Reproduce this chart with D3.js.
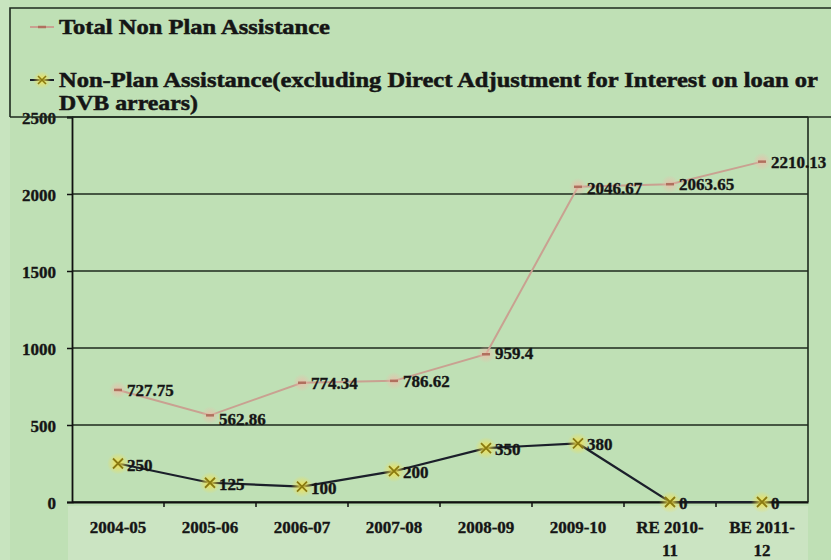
<!DOCTYPE html>
<html>
<head>
<meta charset="utf-8">
<script src="https://cdn.jsdelivr.net/npm/d3@7"></script>
<style>
  body { margin: 0; background: #bfe0b5; }
  svg { display: block; }
  text { font-family: "Liberation Serif", "DejaVu Serif", serif; font-weight: bold; fill: #151515; stroke: #151515; stroke-width: 0.35px; }
</style>
</head>
<body>
<div id="chart"></div>
<script>
// categories and series
var years = ["2004-05", "2005-06", "2006-07", "2007-08", "2008-09", "2009-10", "RE 2010-11", "BE 2011-12"]
var totalNPA = [727.75, 562.86, 774.34, 786.62, 959.4, 2046.67, 2063.65, 2210.13]
var exclNPA = [250, 125, 100, 200, 350, 380, 0, 0]
var yTicks = [0, 500, 1000, 1500, 2000, 2500]
var seriesNames = ["Total Non Plan Assistance",
	"Non-Plan Assistance(excluding Direct Adjustment for Interest on loan or",
	"DVB arrears)"]

var W = 831, H = 560
var margin = { top: 117, right: 23, bottom: 58, left: 72 }

var svg = d3.select("#chart").append("svg")
	.attr("width", W)
	.attr("height", H)

var defs = svg.append("defs")
var glowY = defs.append("radialGradient").attr("id", "glowY")
glowY.append("stop").attr("offset", "0%").attr("stop-color", "#f4e04a").attr("stop-opacity", 0.95)
glowY.append("stop").attr("offset", "100%").attr("stop-color", "#f4e04a").attr("stop-opacity", 0)
var glowP = defs.append("radialGradient").attr("id", "glowP")
glowP.append("stop").attr("offset", "0%").attr("stop-color", "#f0b8a8").attr("stop-opacity", 0.8)
glowP.append("stop").attr("offset", "100%").attr("stop-color", "#f0b8a8").attr("stop-opacity", 0)

var x = d3.scaleBand()
	.domain(years)
	.range([margin.left, W - margin.right])
var y = d3.scaleLinear()
	.domain([0, 2500])
	.range([H - margin.bottom, margin.top])

// lighter band behind the x labels
svg.append("rect")
	.attr("x", margin.left - 4)
	.attr("y", y(0) + 4)
	.attr("width", W - margin.right - margin.left + 4)
	.attr("height", 54)
	.style("fill", "#cbe4c2")
svg.append("rect")
	.attr("x", 0).attr("y", 0).attr("width", 10).attr("height", H)
	.style("fill", "#c8e4bf")

// gridlines
svg.append("g")
	.selectAll("line")
	.data(yTicks)
	.enter().append("line")
	.attr("x1", margin.left)
	.attr("x2", W - margin.right)
	.attr("y1", function (d) { return y(d) })
	.attr("y2", function (d) { return y(d) })
	.style("stroke", "#1e2a1e")
	.style("stroke-width", 1.6)

// right border
svg.append("line")
	.attr("x1", W - margin.right).attr("x2", W - margin.right)
	.attr("y1", y(2500)).attr("y2", y(0))
	.style("stroke", "#1e2a1e").style("stroke-width", 1.6)

// y axis
var yAxis = svg.append("g")
	.attr("transform", "translate(" + margin.left + ",0)")
	.call(d3.axisLeft(y).tickValues(yTicks).tickSize(5).tickPadding(11).tickFormat(d3.format("d")))
yAxis.select(".domain").style("stroke", "#111").style("stroke-width", 1.8)
yAxis.selectAll(".tick line").style("stroke", "#111").style("stroke-width", 1.5)
yAxis.selectAll("text")
	.style("font-family", "Liberation Serif")
	.style("font-weight", "bold")
	.style("font-size", "17px")
	.style("fill", "#151515")
	.attr("dy", "0.4em")

// x axis with ticks on category boundaries
var xAxis = svg.append("g")
	.attr("transform", "translate(0," + y(0) + ")")
	.call(d3.axisBottom(x).tickSize(0).tickFormat(""))
xAxis.select(".domain").style("stroke", "#111").style("stroke-width", 1.8)
xAxis.selectAll(".bound")
	.data(years.slice(1))
	.enter().append("line")
	.attr("class", "bound")
	.attr("x1", function (d) { return x(d) })
	.attr("x2", function (d) { return x(d) })
	.attr("y1", 0).attr("y2", 5)
	.style("stroke", "#111").style("stroke-width", 1.5)

var xl = svg.append("g")
	.selectAll("text")
	.data(years)
	.enter().append("text")
	.attr("x", function (d) { return x(d) + x.bandwidth() / 2 })
	.attr("y", y(0) + 31)
	.style("text-anchor", "middle")
	.style("font-size", "17px")
xl.each(function (d) {
	var t = d3.select(this)
	var parts = d.indexOf(" ") >= 0 ? [d.slice(0, d.length - 2), d.slice(d.length - 2)] : [d]
	parts.forEach(function (p, i) {
		t.append("tspan")
			.attr("x", x(d) + x.bandwidth() / 2)
			.attr("dy", i == 0 ? 0 : 23)
			.text(p)
	})
})

var cx = function (d, i) { return x(years[i]) + x.bandwidth() / 2 }

// total series
var lineT = d3.line()
	.x(function (d, i) { return cx(d, i) })
	.y(function (d) { return y(d) })
svg.append("path")
	.datum(totalNPA)
	.attr("d", lineT)
	.style("fill", "none")
	.style("stroke", "#c9a191")
	.style("stroke-width", 2)
var gT = svg.append("g").selectAll("g")
	.data(totalNPA)
	.enter().append("g")
	.attr("transform", function (d, i) { return "translate(" + cx(d, i) + "," + y(d) + ")" })
gT.append("circle").attr("r", 9).style("fill", "url(#glowP)")
gT.append("line").attr("x1", -4).attr("x2", 4).style("stroke", "#b0705e").style("stroke-width", 2.5)

// excluding series
svg.append("path")
	.datum(exclNPA)
	.attr("d", lineT)
	.style("fill", "none")
	.style("stroke", "#1b1f2a")
	.style("stroke-width", 2.2)
var gE = svg.append("g").selectAll("g")
	.data(exclNPA)
	.enter().append("g")
	.attr("transform", function (d, i) { return "translate(" + cx(d, i) + "," + y(d) + ")" })
gE.append("circle").attr("r", 11).style("fill", "url(#glowY)")
gE.append("path").attr("d", "M-5,-5L5,5M-5,5L5,-5").style("stroke", "#8a7a10").style("stroke-width", 1.8)

// data labels
var dyT = [6, 10, 6, 6, 5, 7, 6, 6]
svg.append("g").selectAll("text")
	.data(totalNPA)
	.enter().append("text")
	.attr("x", function (d, i) { return cx(d, i) + 9 })
	.attr("y", function (d, i) { return y(d) + dyT[i] })
	.style("font-size", "17px")
	.text(function (d) { return d })
svg.append("g").selectAll("text")
	.data(exclNPA)
	.enter().append("text")
	.attr("x", function (d, i) { return cx(d, i) + 9 })
	.attr("y", function (d) { return y(d) + 7 })
	.style("font-size", "17px")
	.text(function (d) { return d })

// legend
svg.append("path")
	.attr("d", "M" + 10 + "," + y(2500) + "V" + 8 + "H" + (W + 5))
	.style("fill", "none")
	.style("stroke", "#1e2a1e")
	.style("stroke-width", 1.6)
svg.append("line")
	.attr("x1", 10).attr("x2", W)
	.attr("y1", y(2500)).attr("y2", y(2500))
	.style("stroke", "#1e2a1e").style("stroke-width", 1.6)

svg.append("line").attr("x1", 30).attr("x2", 54).attr("y1", 27).attr("y2", 27)
	.style("stroke", "#c9a191").style("stroke-width", 2)
svg.append("line").attr("x1", 38).attr("x2", 46).attr("y1", 27).attr("y2", 27)
	.style("stroke", "#b0705e").style("stroke-width", 2.5)
svg.append("line").attr("x1", 30).attr("x2", 54).attr("y1", 80).attr("y2", 80)
	.style("stroke", "#1b1f2a").style("stroke-width", 2)
svg.append("circle").attr("cx", 42).attr("cy", 80).attr("r", 9).style("fill", "url(#glowY)")
svg.append("path").attr("d", "M38,76L46,84M38,84L46,76")
	.style("stroke", "#8a7a10").style("stroke-width", 1.6)

var legendLen = [271, 759, 139]
var legendY = [34, 87, 110]
seriesNames.forEach(function (s, i) {
	svg.append("text")
		.attr("x", 59)
		.attr("y", legendY[i])
		.attr("textLength", legendLen[i])
		.attr("lengthAdjust", "spacingAndGlyphs")
		.style("font-size", "21px")
		.style("stroke-width", "0.5px")
		.text(s)
})
</script>
</body>
</html>
